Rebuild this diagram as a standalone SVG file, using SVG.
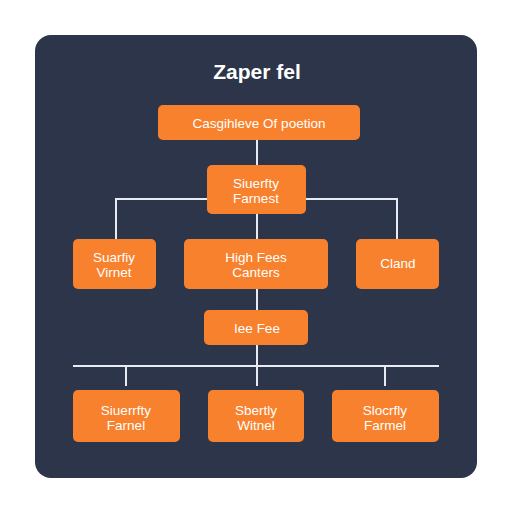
<svg xmlns="http://www.w3.org/2000/svg" width="512" height="512" viewBox="0 0 512 512">
<style>
.n{fill:#f8812d}
.t{font-family:"Liberation Sans",Arial,sans-serif;font-size:13.5px;fill:#fff;text-anchor:middle}
.c{stroke:#e8ecf2;stroke-width:2;fill:none}
</style>
<rect width="512" height="512" fill="#fff"/>
<rect x="35" y="35" width="442" height="443" rx="16" fill="#2c3549"/>
<text x="257" y="79" font-family="Liberation Sans,Arial,sans-serif" font-size="21" font-weight="bold" fill="#fff" text-anchor="middle">Zaper fel</text>
<g id="connectors">
<path class="c" d="M257 140V165M116 239V199H207M306 199H397V239M257 214V239M257 289V310M257 345V386M73 366H439M126 366V386M385 366V386"/>
</g>
<g id="n1"><rect class="n" x="158" y="105" width="202" height="35" rx="5"/><text class="t" x="259" y="128">Casgihleve Of poetion</text></g>
<g id="n2"><rect class="n" x="207" y="165" width="99" height="49" rx="5"/><text class="t" x="256" y="188">Siuerfty</text><text class="t" x="256" y="203">Farnest</text></g>
<g id="n3"><rect class="n" x="73" y="239" width="83" height="50" rx="5"/><text class="t" x="114" y="262">Suarfiy</text><text class="t" x="114" y="277">Virnet</text></g>
<g id="n4"><rect class="n" x="184" y="239" width="144" height="50" rx="5"/><text class="t" x="256" y="262">High Fees</text><text class="t" x="256" y="277">Canters</text></g>
<g id="n5"><rect class="n" x="356" y="239" width="83" height="50" rx="5"/><text class="t" x="398" y="268">Cland</text></g>
<g id="n6"><rect class="n" x="204" y="310" width="104" height="35" rx="5"/><text class="t" x="257" y="333">Iee Fee</text></g>
<g id="n7"><rect class="n" x="73" y="390" width="107" height="52" rx="5"/><text class="t" x="126" y="415">Siuerrfty</text><text class="t" x="126" y="430">Farnel</text></g>
<g id="n8"><rect class="n" x="208" y="390" width="96" height="52" rx="5"/><text class="t" x="256" y="415">Sbertly</text><text class="t" x="256" y="430">Witnel</text></g>
<g id="n9"><rect class="n" x="332" y="390" width="107" height="52" rx="5"/><text class="t" x="385" y="415">Slocrfly</text><text class="t" x="385" y="430">Farmel</text></g>
</svg>
